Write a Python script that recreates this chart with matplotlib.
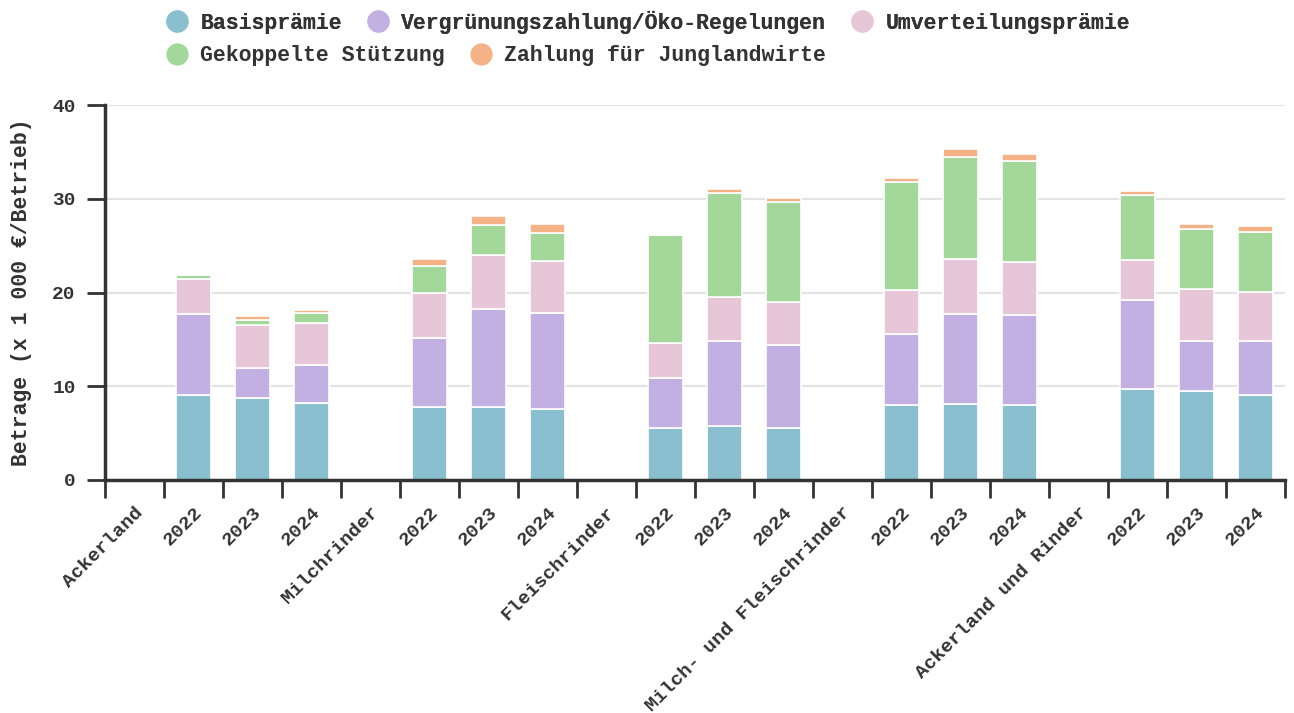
import numpy as np
import matplotlib
matplotlib.use('Agg')
from matplotlib import pyplot as plt
from matplotlib.lines import Line2D

plt.rcParams['font.family'] = ['Liberation Mono', 'DejaVu Sans Mono']
plt.rcParams['font.weight'] = 'bold'

# x categories: group header (empty band) followed by the three years
categories = ['Ackerland', '2022', '2023', '2024',
              'Milchrinder', '2022', '2023', '2024',
              'Fleischrinder', '2022', '2023', '2024',
              'Milch- und Fleischrinder', '2022', '2023', '2024',
              'Ackerland und Rinder', '2022', '2023', '2024']

series_names = ['Basisprämie', 'Vergrünungszahlung/Öko-Regelungen',
                'Umverteilungsprämie', 'Gekoppelte Stützung',
                'Zahlung für Junglandwirte']

# values in 1 000 EUR per farm, None = empty header band
basis = [None, 9.1, 8.7, 8.2, None, 7.8, 7.8, 7.6, None, 5.6, 5.8, 5.6,
         None, 8.0, 8.1, 8.0, None, 9.7, 9.5, 9.1]
gruen = [None, 8.6, 3.3, 4.1, None, 7.4, 10.4, 10.2, None, 5.3, 9.0, 8.8,
         None, 7.6, 9.65, 9.6, None, 9.45, 5.3, 5.7]
umvert = [None, 3.7, 4.5, 4.45, None, 4.7, 5.85, 5.6, None, 3.75, 4.7, 4.55,
          None, 4.7, 5.85, 5.7, None, 4.3, 5.55, 5.3]
gekoppelt = [None, 0.45, 0.6, 1.05, None, 2.95, 3.2, 3.0, None, 11.45, 11.15, 10.7,
             None, 11.5, 10.9, 10.7, None, 7.0, 6.4, 6.4]
jung = [None, 0.0, 0.35, 0.35, None, 0.75, 0.9, 0.9, None, 0.0, 0.4, 0.4,
        None, 0.4, 0.8, 0.75, None, 0.4, 0.55, 0.6]

colors = ['#89bfcf', '#c3b0e3', '#e6c6d7', '#a3d89a', '#f4b286']
text_color = '#333333'
fs = 15.5
tick_fs = 14

fig = plt.figure(figsize=(12.94, 7.13), dpi=100)
ax = fig.add_axes([105 / 1294, 1 - 480 / 713, 1180 / 1294, 375 / 713])

centers = np.arange(len(categories)) + 0.5
bottom = np.zeros(len(categories))
for vals, col in zip([basis, gruen, umvert, gekoppelt, jung], colors):
    v = np.array([0.0 if x is None else x for x in vals])
    ax.bar(centers, v, bottom=bottom, width=0.61, color=col,
           edgecolor='white', linewidth=1.2, zorder=2)
    bottom += v

ax.set_xlim(0, len(categories))
ax.set_ylim(0, 40)
ax.set_yticks([0, 10, 20, 30, 40])
ax.grid(axis='y', color='#e3e3e3', linewidth=1.5, zorder=0)
ax.set_axisbelow(True)

# ticks at band edges, labels at band centers
ax.set_xticks(np.arange(len(categories) + 1))
ax.set_xticklabels([])
ax.set_xticks(centers, minor=True)
ax.set_xticklabels(categories, minor=True, rotation=45, ha='right', va='top',
                   rotation_mode='anchor', fontsize=tick_fs, color=text_color)
ax.tick_params(axis='x', which='major', length=13, width=2, color=text_color,
               direction='out')
ax.tick_params(axis='x', which='minor', length=0, pad=17)
ax.tick_params(axis='y', length=13, width=2, color=text_color, pad=8,
               labelsize=tick_fs, labelcolor=text_color)

for s in ['top', 'right']:
    ax.spines[s].set_visible(False)
for s in ['left', 'bottom']:
    ax.spines[s].set_linewidth(2.5)
    ax.spines[s].set_color(text_color)

fig.text(22 / 1294, 1 - 292 / 713, 'Betrage (x 1 000 €/Betrieb)', rotation=90,
         ha='center', va='center', fontsize=fs, color=text_color)

handles = [Line2D([], [], linestyle='none', marker='o', markersize=15,
                  markerfacecolor=c, markeredgecolor=c) for c in colors]
leg_kw = dict(frameon=False, loc='center left', borderaxespad=0, borderpad=0,
              handlelength=1.0, handletextpad=0.6, columnspacing=1.15,
              fontsize=fs, labelcolor=text_color)
leg1 = fig.legend(handles[:3], series_names[:3], ncol=3,
                  bbox_to_anchor=(166 / 1294, 1 - 22 / 713), **leg_kw)
fig.add_artist(leg1)
fig.legend(handles[3:], series_names[3:], ncol=2,
           bbox_to_anchor=(166 / 1294, 1 - 56 / 713), **leg_kw)

fig.savefig('out.png', dpi=100)
